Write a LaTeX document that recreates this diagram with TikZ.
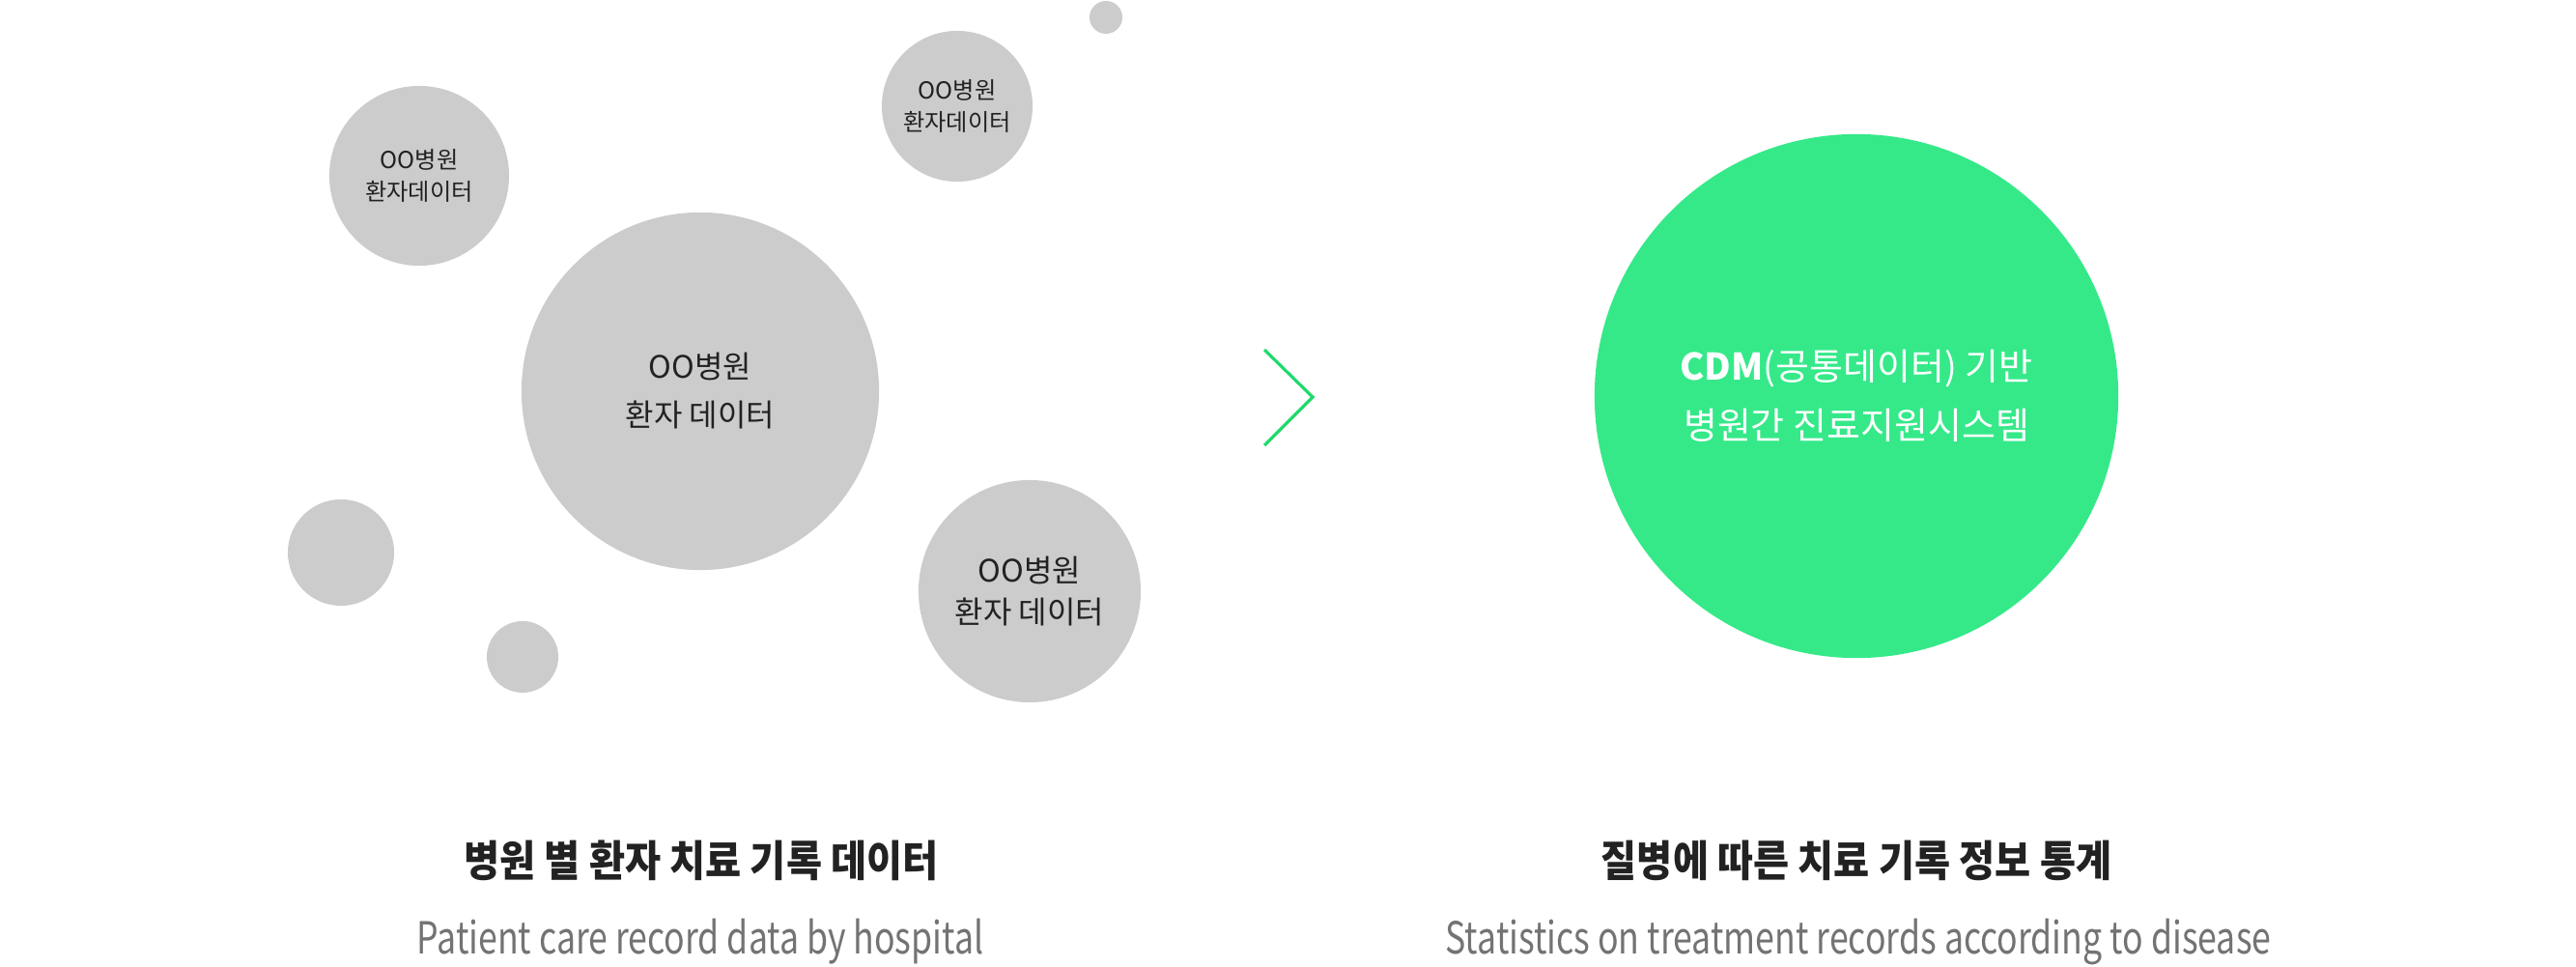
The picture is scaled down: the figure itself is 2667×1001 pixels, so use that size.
\documentclass[tikz,border=0pt]{standalone}
\usepackage{fontspec}
\setmainfont{Noto Sans CJK KR}
\newfontfamily\titlefont{Noto Sans CJK KR}[FakeStretch=0.91]
\newfontfamily\subfont{Noto Sans CJK KR}[FakeStretch=0.78]
\usetikzlibrary{positioning}
\definecolor{bubblegray}{HTML}{CCCCCC}
\definecolor{cdmgreen}{HTML}{35E989}
\definecolor{arrowgreen}{HTML}{1DDA6B}
\definecolor{textdark}{HTML}{222222}
\definecolor{textgray}{HTML}{737373}
\tikzset{
  bubble/.style = {circle, fill=#1, draw=none, inner sep=0pt, align=center},
  chevron/.style = {color=#1, line width=0.9pt, line join=miter},
  title/.style = {text=textdark, font=\titlefont\bfseries\fontsize{12.6pt}{15pt}\selectfont},
  subtitle/.style = {text=textgray, font=\subfont\fontsize{13pt}{15pt}\selectfont}
}

\begin{document}
\begin{tikzpicture}[x=0.01cm, y=-0.01cm]

    \useasboundingbox (0,0) rectangle (2667,1001);

    % Hospital bubbles
    \node[bubble={bubblegray}, minimum size=3.70cm, text=textdark,
          font=\fontsize{9.1pt}{14.2pt}\selectfont] (bigHosp) at (725,405)
          {OO병원\\환자 데이터};
    \node[bubble={bubblegray}, minimum size=1.86cm, text=textdark,
          font=\fontsize{6.9pt}{9.6pt}\selectfont] (leftHosp) at (434,182)
          {OO병원\\환자데이터};
    \node[bubble={bubblegray}, minimum size=1.56cm, text=textdark,
          font=\fontsize{6.9pt}{9.6pt}\selectfont] (topHosp) at (991,110)
          {OO병원\\환자데이터};
    \node[bubble={bubblegray}, minimum size=2.30cm, text=textdark,
          font=\fontsize{9.1pt}{12pt}\selectfont] (rightHosp) at (1066,612)
          {OO병원\\환자 데이터};

    % Empty bubbles
    \node[bubble={bubblegray}, minimum size=0.34cm] (dotTop) at (1145,18) {};
    \node[bubble={bubblegray}, minimum size=1.10cm] (dotLeft) at (353,572) {};
    \node[bubble={bubblegray}, minimum size=0.74cm] (dotBottom) at (541,680) {};

    % Arrow
    \coordinate (chevTop) at (1309,362);
    \coordinate (chevTip) at (1359,411);
    \coordinate (chevBot) at (1309,461);
    \draw[chevron={arrowgreen}] (chevTop) -- (chevTip) -- (chevBot);

    % CDM bubble
    \node[bubble={cdmgreen}, minimum size=5.42cm] (cdm) at (1922,410) {};
    \node[text=white, align=center, font=\fontsize{10.8pt}{17.4pt}\selectfont]
          (cdmText) at (cdm) {\textbf{CDM}(공통데이터) 기반\\병원간 진료지원시스템};

    % Captions
    \node[title] (leftTitle) at (726,891) {병원 별 환자 치료 기록 데이터};
    \node[subtitle] (leftSub) at (725,975) {Patient care record data by hospital};
    \node[title] (rightTitle) at (1922,891) {질병에 따른 치료 기록 정보 통계};
    \node[subtitle] (rightSub) at (1924,975) {Statistics on treatment records according to disease};

\end{tikzpicture}
\end{document}
